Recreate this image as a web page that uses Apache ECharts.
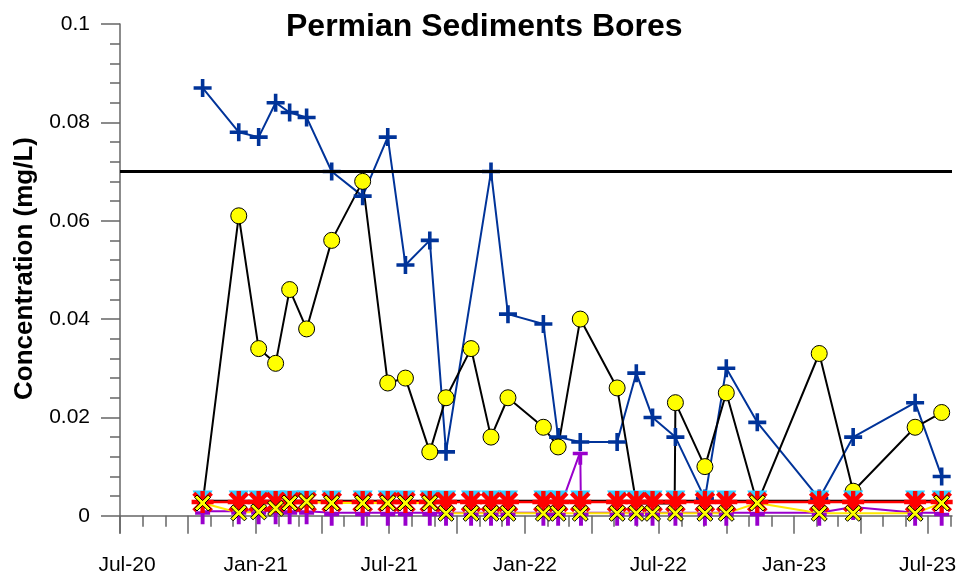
<!DOCTYPE html>
<html>
<head>
<meta charset="utf-8">
<script src="https://cdn.jsdelivr.net/npm/echarts@6/dist/echarts.min.js"></script>
<style>
  html, body { margin: 0; padding: 0; background: #fff; }
  #chart { width: 957px; height: 578px; }
</style>
</head>
<body>
<div id="chart"></div>
<script>
// sampling dates shared by most bores
const sampleDates = ['2020-10-21','2020-12-09','2021-01-05','2021-01-28','2021-02-16','2021-03-11',
  '2021-04-14','2021-05-26','2021-06-29','2021-07-23','2021-08-25','2021-09-16','2021-10-20',
  '2021-11-16','2021-12-09','2022-01-26','2022-02-15','2022-03-17','2022-05-06','2022-06-01',
  '2022-06-23','2022-07-24','2022-09-02','2022-10-01','2022-11-12','2023-02-04','2023-03-22',
  '2023-06-14','2023-07-20'];

// blue "+" bore
const blueValues = [0.087,0.078,0.077,0.084,0.082,0.081,0.070,0.065,0.077,0.051,0.056,0.013,null,
  0.070,0.041,0.039,0.016,0.015,0.015,0.029,0.020,0.016,0.0035,0.030,0.019,0.0035,0.016,0.023,0.008];

// black line / yellow circle bore (values < 0.003 are non-detects, no marker)
const blackDates = ['2020-10-21','2020-12-09','2021-01-05','2021-01-28','2021-02-16','2021-03-11',
  '2021-04-14','2021-05-26','2021-06-29','2021-07-23','2021-08-25','2021-09-16','2021-10-20',
  '2021-11-16','2021-12-09','2022-01-26','2022-02-15','2022-03-17','2022-05-06','2022-06-01',
  '2022-06-23','2022-07-23','2022-07-24','2022-09-02','2022-10-01','2022-11-12','2023-02-04',
  '2023-03-22','2023-06-14','2023-07-20'];
const blackValues = [0.0025,0.061,0.034,0.031,0.046,0.038,0.056,0.068,0.027,0.028,0.013,0.024,0.034,
  0.016,0.024,0.018,0.014,0.040,0.026,0.0025,0.0025,0.0025,0.023,0.010,0.025,0.0025,0.033,
  0.005,0.018,0.021];

// near-zero bores
const redValues = [0.0028,0.0028,0.0028,0.0028,0.0028,0.0028,0.0028,0.0028,0.0028,0.0028,0.0028,
  0.0028,0.0028,0.0028,0.0028,0.0028,0.0028,0.0028,0.0028,0.0028,0.0028,0.0028,0.0028,0.0028,
  0.0028,0.0028,0.0028,0.0028,0.0028];
const cyanValues = [0.0031,0.0031,0.0031,0.0031,0.0031,0.0031,0.0031,0.0031,0.0031,0.0031,0.0031,
  0.0031,0.0031,0.0031,0.0031,0.0031,0.0031,0.0031,0.0031,0.0031,0.0031,0.0031,0.0031,0.0031,
  0.0031,0.0031,0.0031,0.0031,0.0031];
const yellowValues = [0.0026,0.0006,0.0008,0.0015,0.0026,0.0029,0.0026,0.0026,0.0026,0.0026,0.0026,
  0.0005,0.0005,0.0005,0.0005,0.0005,0.0005,0.0005,0.0005,0.0005,0.0005,0.0005,0.0005,0.0005,
  0.0026,0.0005,0.0005,0.0005,0.0026];
const purpleDates = ['2020-10-21','2020-12-09','2021-01-05','2021-01-28','2021-02-16','2021-03-11',
  '2021-04-14','2021-05-26','2021-06-29','2021-07-23','2021-08-25','2021-09-16','2021-10-20',
  '2021-11-16','2021-12-09','2022-01-26','2022-02-15','2022-03-17','2022-03-18','2022-05-06',
  '2022-06-01','2022-06-23','2022-07-24','2022-09-02','2022-10-01','2022-11-12','2023-02-04',
  '2023-03-22','2023-06-14','2023-07-20'];
const purpleValues = [0.0009,0.0009,0.0009,0.0009,0.0009,0.0009,0.0006,0.0006,0.0006,0.0006,0.0006,
  0.0006,0.0006,0.0006,0.0006,0.0006,0.0006,0.013,0.0006,0.0006,0.0006,0.0006,0.0006,0.0006,
  0.0006,0.0006,0.0006,0.0018,0.0006,0.0006];

const guideline = 0.07;

// axis ticks and labels
const yMajorTicks = [0, 0.02, 0.04, 0.06, 0.08, 0.1];
const yMinorTicks = [0.004,0.008,0.012,0.016,0.024,0.028,0.032,0.036,0.044,0.048,0.052,0.056,
  0.064,0.068,0.072,0.076,0.084,0.088,0.092,0.096];
const xLabelDates = ['2020-07-01','2021-01-01','2021-07-01','2022-01-01','2022-07-01','2023-01-01','2023-07-01'];
const xQuarterTicks = ['2020-07-01','2020-10-01','2021-01-01','2021-04-01','2021-07-01','2021-10-01',
  '2022-01-01','2022-04-01','2022-07-01','2022-10-01','2023-01-01','2023-04-01','2023-07-01'];
const xMonthTicks = ['2020-08-01','2020-09-01','2020-11-01','2020-12-01','2021-02-01','2021-03-01',
  '2021-05-01','2021-06-01','2021-08-01','2021-09-01','2021-11-01','2021-12-01','2022-02-01',
  '2022-03-01','2022-05-01','2022-06-01','2022-08-01','2022-09-01','2022-11-01','2022-12-01',
  '2023-02-01','2023-03-01','2023-05-01','2023-06-01','2023-08-01'];

const ts = d => Date.parse(d);
const pairs = (dates, vals) => dates.map((d, i) => vals[i] == null ? null : [ts(d), vals[i]]).filter(Boolean);
const MONTHS = ['Jan','Feb','Mar','Apr','May','Jun','Jul','Aug','Sep','Oct','Nov','Dec'];

// marker shapes
const plusPath = 'path://M4,0H6V4H10V6H6V10H4V6H0V4H4Z';
const starPath = 'path://M0,8H20V12H0Z M8,0H12V20H8Z M3.41,0.59L19.41,16.59L16.59,19.41L0.59,3.41Z M16.59,0.59L19.41,3.41L3.41,19.41L0.59,16.59Z';
const crossPath = 'path://M0,3L3,0L10,7L17,0L20,3L13,10L20,17L17,20L10,13L3,20L0,17L7,10Z';
const teePath = 'path://M0,0H10V2.6H6.3V10H3.7V2.6H0Z';
const triPath = 'path://M0,0L10,0L5,9Z';

const chart = echarts.init(document.getElementById('chart'));
const font = "'Liberation Sans', Arial, sans-serif";
const axisGrey = '#666';

const blackData = blackDates.map((d, i) => {
  const v = blackValues[i];
  return v < 0.003 ? { value: [ts(d), v], symbol: 'none' } : { value: [ts(d), v] };
});

const option = {
  animation: false,
  title: {
    text: 'Permian Sediments Bores',
    left: 286,
    top: 11,
    padding: 0,
    textStyle: { fontFamily: font, fontSize: 32, fontWeight: 'bold', color: '#000' }
  },
  grid: { left: 120, right: 5, top: 24, bottom: 45, outerBoundsMode: 'none' },
  xAxis: [{
    type: 'value',
    position: 'bottom',
    min: ts('2020-07-01'),
    max: ts('2023-08-03'),
    axisLine: { onZero: true, lineStyle: { color: axisGrey, width: 1.5 } },
    axisTick: { customValues: xQuarterTicks.map(ts), length: 18, lineStyle: { color: axisGrey, width: 1.5 } },
    axisLabel: {
      customValues: xLabelDates.map(ts),
      margin: 22,
      fontFamily: font, fontSize: 21, color: '#000',
      formatter: v => {
        const d = new Date(v);
        const txt = MONTHS[d.getUTCMonth()] + '-' + String(d.getUTCFullYear()).slice(2);
        return v === ts(xLabelDates[0]) ? '{first|' + txt + '}' : txt;
      },
      rich: { first: { fontFamily: font, fontSize: 21, color: '#000', padding: [0, 0, 0, 14] } }
    },
    splitLine: { show: false }
  }, {
    type: 'value',
    position: 'bottom',
    min: ts('2020-07-01'),
    max: ts('2023-08-03'),
    axisLine: { show: false, onZero: true },
    axisTick: { customValues: xMonthTicks.map(ts), length: 11, lineStyle: { color: axisGrey, width: 1.5 } },
    axisLabel: { show: false },
    splitLine: { show: false }
  }],
  yAxis: [{
    type: 'value',
    position: 'left',
    min: -0.0035,
    max: 0.1,
    name: 'Concentration (mg/L)',
    nameLocation: 'middle',
    nameGap: 80,
    nameTextStyle: { fontFamily: font, fontSize: 26, fontWeight: 'bold', color: '#000', padding: [0, 0, 0, 20] },
    axisLine: { show: true, lineStyle: { color: axisGrey, width: 1.5 } },
    axisTick: { show: true, customValues: yMajorTicks, length: 19, lineStyle: { color: axisGrey, width: 1.5 } },
    axisLabel: { customValues: yMajorTicks, margin: 30, fontFamily: font, fontSize: 21, color: '#000' },
    splitLine: { show: false }
  }, {
    type: 'value',
    position: 'left',
    min: -0.0035,
    max: 0.1,
    axisLine: { show: false },
    axisTick: { show: true, customValues: yMinorTicks, length: 10, lineStyle: { color: axisGrey, width: 1.5 } },
    axisLabel: { show: false },
    splitLine: { show: false }
  }],
  series: [{
    name: 'blue',
    type: 'line',
    data: pairs(sampleDates, blueValues),
    symbol: plusPath,
    symbolSize: 18,
    itemStyle: { color: '#003399' },
    lineStyle: { color: '#003399', width: 2 },
    markLine: {
      silent: true,
      symbol: 'none',
      label: { show: false },
      lineStyle: { color: '#000', width: 3, type: 'solid' },
      data: [{ yAxis: guideline }]
    }
  }, {
    name: 'black',
    type: 'line',
    data: blackData,
    symbol: 'circle',
    symbolSize: 16,
    itemStyle: { color: '#FFFF00', borderColor: '#000', borderWidth: 1 },
    lineStyle: { color: '#000', width: 2 }
  }, {
    name: 'cyan',
    type: 'line',
    data: pairs(sampleDates, cyanValues),
    symbol: triPath,
    symbolSize: 20,
    itemStyle: { color: '#33CCFF' },
    lineStyle: { color: '#000', width: 1.5 }
  }, {
    name: 'purple',
    type: 'line',
    data: pairs(purpleDates, purpleValues),
    symbol: teePath,
    symbolSize: [15, 13],
    symbolOffset: [0, '50%'],
    itemStyle: { color: '#9900CC' },
    lineStyle: { color: '#9900CC', width: 2 }
  }, {
    name: 'red',
    type: 'line',
    data: pairs(sampleDates, redValues),
    symbol: starPath,
    symbolSize: 22,
    itemStyle: { color: '#FF0000' },
    lineStyle: { color: '#FF0000', width: 2.5 }
  }, {
    name: 'yellow',
    type: 'line',
    data: pairs(sampleDates, yellowValues),
    symbol: crossPath,
    symbolSize: 16,
    itemStyle: { color: '#FFFF00', borderColor: '#000', borderWidth: 1 },
    lineStyle: { color: '#FFE800', width: 2 }
  }]
};
chart.setOption(option);
</script>
</body>
</html>
